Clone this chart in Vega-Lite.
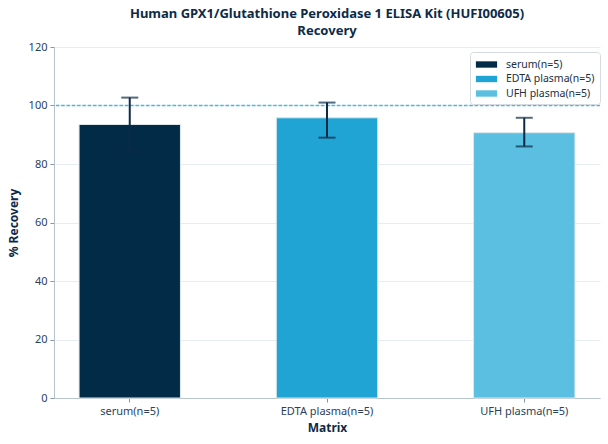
{
  "$schema": "https://vega.github.io/schema/vega-lite/v6.json",
  "width": 546,
  "height": 351,
  "autosize": {"type": "none"},
  "padding": {"left": 54, "top": 47, "right": 8, "bottom": 46},
  "title": {
    "text": ["Human GPX1/Glutathione Peroxidase 1 ELISA Kit (HUFI00605)", "Recovery"],
    "font": "Noto Sans",
    "fontSize": 13,
    "fontWeight": "bold",
    "color": "#0d2a47",
    "offset": 3,
    "lineHeight": 17
  },
  "data": {
    "values": [
      {"Matrix": "serum(n=5)", "recovery": 93.5, "low": 84.3, "high": 102.7},
      {"Matrix": "EDTA plasma(n=5)", "recovery": 95.8, "low": 89.0, "high": 101.0},
      {"Matrix": "UFH plasma(n=5)", "recovery": 90.7, "low": 86.0, "high": 95.8}
    ]
  },
  "layer": [
    {
      "mark": {"type": "bar", "stroke": "#dfe6ea", "strokeWidth": 1},
      "encoding": {
        "x": {
          "field": "Matrix",
          "type": "nominal",
          "sort": null,
          "title": "Matrix",
          "scale": {"paddingInner": 0.486, "paddingOuter": 0.127},
          "axis": {"labelAngle": 0}
        },
        "y": {
          "field": "recovery",
          "type": "quantitative",
          "title": "% Recovery",
          "scale": {"domain": [0, 120]},
          "axis": {"values": [0, 20, 40, 60, 80, 100, 120], "grid": true}
        },
        "color": {
          "field": "Matrix",
          "type": "nominal",
          "sort": null,
          "scale": {
            "domain": ["serum(n=5)", "EDTA plasma(n=5)", "UFH plasma(n=5)"],
            "range": ["#022b48", "#20a4d3", "#5bbfe1"]
          },
          "legend": {
            "title": null,
            "orient": "none",
            "legendX": 416,
            "legendY": 5,
            "symbolType": "M-1.5,-0.45H1.5V0.45H-1.5Z",
            "symbolSize": 200,
            "symbolStrokeWidth": 0,
            "symbolOffset": 4,
            "labelOffset": 12,
            "labelFontSize": 10.5,
            "labelFont": "Noto Sans",
            "labelColor": "#1c2f44",
            "rowPadding": 1.5,
            "padding": 5,
            "strokeColor": "#d5dbe0",
            "fillColor": "#ffffff",
            "cornerRadius": 3
          }
        }
      }
    },
    {
      "data": {"values": [{"target": 100}]},
      "mark": {"type": "rule", "stroke": "#45b8e4", "strokeDash": [3.5, 1.8], "strokeWidth": 1.3},
      "encoding": {"y": {"field": "target", "type": "quantitative"}}
    },
    {
      "mark": {"type": "rule", "stroke": "#0d2a47", "strokeWidth": 2},
      "encoding": {
        "x": {"field": "Matrix", "type": "nominal", "sort": null},
        "y": {"field": "low", "type": "quantitative"},
        "y2": {"field": "high"}
      }
    },
    {
      "mark": {"type": "tick", "color": "#0d2a47", "thickness": 2, "size": 17},
      "encoding": {
        "x": {"field": "Matrix", "type": "nominal", "sort": null},
        "y": {"field": "high", "type": "quantitative"}
      }
    },
    {
      "mark": {"type": "tick", "color": "#0d2a47", "thickness": 2, "size": 17},
      "encoding": {
        "x": {"field": "Matrix", "type": "nominal", "sort": null},
        "y": {"field": "low", "type": "quantitative"}
      }
    }
  ],
  "config": {
    "view": {"stroke": null},
    "font": "Noto Sans",
    "axis": {
      "labelFont": "Noto Sans",
      "labelFontSize": 11,
      "labelColor": "#2a425c",
      "titleFont": "Noto Sans",
      "titleFontSize": 12,
      "titleFontWeight": "bold",
      "titleColor": "#0d2a47",
      "domainColor": "#b8c4cc",
      "tickColor": "#8796a3",
      "tickSize": 4,
      "gridColor": "#e6ecf0",
      "labelPadding": 3
    },
    "axisX": {"grid": false, "titlePadding": 6},
    "axisY": {"titlePadding": 8}
  }
}
